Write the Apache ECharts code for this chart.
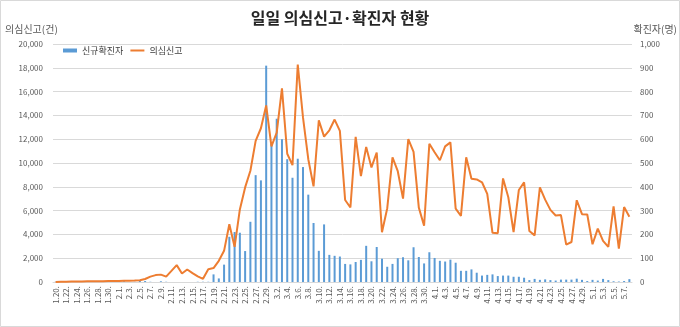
<!DOCTYPE html>
<html>
<head>
<meta charset="utf-8">
<script src="https://cdn.jsdelivr.net/npm/echarts@6/dist/echarts.min.js"></script>
<style>
html,body{margin:0;padding:0;background:#fff;}
#c{width:680px;height:327px;}
</style>
</head>
<body>
<div id="c"></div>
<script>
// Dates 1/20 .. 5/8
const dates = [
'1.20.','1.21.','1.22.','1.23.','1.24.','1.25.','1.26.','1.27.','1.28.','1.29.','1.30.','1.31.',
'2.1.','2.2.','2.3.','2.4.','2.5.','2.6.','2.7.','2.8.','2.9.','2.10.','2.11.','2.12.','2.13.','2.14.','2.15.','2.16.','2.17.','2.18.','2.19.','2.20.','2.21.','2.22.','2.23.','2.24.','2.25.','2.26.','2.27.','2.28.','2.29.',
'3.1.','3.2.','3.3.','3.4.','3.5.','3.6.','3.7.','3.8.','3.9.','3.10.','3.11.','3.12.','3.13.','3.14.','3.15.','3.16.','3.17.','3.18.','3.19.','3.20.','3.21.','3.22.','3.23.','3.24.','3.25.','3.26.','3.27.','3.28.','3.29.','3.30.','3.31.',
'4.1.','4.2.','4.3.','4.4.','4.5.','4.6.','4.7.','4.8.','4.9.','4.10.','4.11.','4.12.','4.13.','4.14.','4.15.','4.16.','4.17.','4.18.','4.19.','4.20.','4.21.','4.22.','4.23.','4.24.','4.25.','4.26.','4.27.','4.28.','4.29.','4.30.',
'5.1.','5.2.','5.3.','5.4.','5.5.','5.6.','5.7.','5.8.'
];

// 신규확진자 (right axis)
const confirmed = [
1,0,0,0,1,0,1,1,0,0,2,5,
1,3,0,1,5,4,1,0,3,1,0,0,0,0,0,1,1,1,32,15,73,190,210,207,130,253,449,427,909,
580,686,600,516,438,518,483,367,248,131,242,114,110,107,76,74,84,93,152,87,147,98,64,76,100,104,91,146,105,78,125,
101,89,86,94,81,47,47,53,39,27,30,32,25,27,27,22,22,18,8,13,9,11,8,6,10,10,10,14,9,4,
9,6,13,8,3,2,4,12
];

// 의심신고 (left axis)
const suspected = [
10,20,30,40,40,50,60,60,70,70,80,80,
90,100,110,120,150,250,450,580,620,450,930,1420,720,1050,750,480,270,1080,1170,1780,2620,4850,2960,6100,7950,9350,11860,12920,14840,
11400,12560,16270,10780,9820,18270,13810,10320,8040,13590,12220,12750,13650,12700,6890,6260,12200,8900,11350,9630,10880,4180,6200,10480,9310,7010,12010,10930,6250,4730,11620,
10900,10230,11400,11730,6170,5560,10480,8670,8620,8380,7400,4130,4100,8700,7120,4200,7730,8370,4280,3920,7950,6920,6060,5590,5620,3140,3360,6870,5700,5670,
3170,4490,3460,2950,6350,2810,6300,5480
];

const leftTicks = {min:0, max:20000, interval:2000};
const rightTicks = {min:0, max:1000, interval:100};

const chart = echarts.init(document.getElementById('c'), null, {renderer:'canvas'});
const font = '"Noto Sans CJK KR", "Noto Sans", sans-serif';
chart.setOption({
  animation:false,
  textStyle:{fontFamily:font},
  graphic:[{type:'rect', shape:{x:0.5,y:0.5,width:679,height:326}, style:{fill:'none', stroke:'#d9d9d9', lineWidth:1}}],
  title:{text:'일일 의심신고·확진자 현황', left:'center', top:5,
    textStyle:{fontFamily:font, fontSize:16, fontWeight:'bold', color:'#262626'}},
  legend:{left:58, top:41, itemGap:6, itemWidth:14, itemHeight:4,
    textStyle:{fontFamily:font, fontSize:9, color:'#404040'},
    data:[{name:'신규확진자', icon:'rect'},{name:'의심신고', itemStyle:{opacity:0}}]},
  grid:{left:53, right:47, top:44, bottom:45},
  xAxis:{type:'category', data:dates, boundaryGap:true,
    axisLine:{lineStyle:{color:'#d9d9d9'}}, axisTick:{show:false},
    axisLabel:{interval:1, rotate:90, fontSize:8, color:'#595959', margin:4, fontFamily:font}},
  yAxis:[
    {type:'value', min:leftTicks.min, max:leftTicks.max, interval:leftTicks.interval,
     name:'의심신고(건)', nameLocation:'end', nameGap:10,
     nameTextStyle:{align:'left', padding:[0,0,0,-48], fontSize:10, color:'#595959', fontFamily:font},
     axisLine:{show:false}, axisTick:{show:false},
     axisLabel:{fontSize:8, color:'#595959', margin:10, fontFamily:font,
       formatter:v=>v.toLocaleString('en-US')},
     splitLine:{lineStyle:{color:'#d9d9d9'}}},
    {type:'value', min:rightTicks.min, max:rightTicks.max, interval:rightTicks.interval,
     name:'확진자(명)', nameLocation:'end', nameGap:10,
     nameTextStyle:{align:'right', padding:[0,-45,0,0], fontSize:10, color:'#595959', fontFamily:font},
     axisLine:{show:false}, axisTick:{show:false},
     axisLabel:{fontSize:8, color:'#595959', margin:8, fontFamily:font,
       formatter:v=>v.toLocaleString('en-US')},
     splitLine:{show:false}}
  ],
  series:[
    {name:'신규확진자', type:'bar', yAxisIndex:1, data:confirmed, barWidth:2,
     itemStyle:{color:'#5B9BD5'}},
    {name:'의심신고', type:'line', yAxisIndex:0, data:suspected, symbol:'none',
     lineStyle:{color:'#ED7D31', width:2}, itemStyle:{color:'#ED7D31'}, z:3}
  ]
});
</script>
</body>
</html>
